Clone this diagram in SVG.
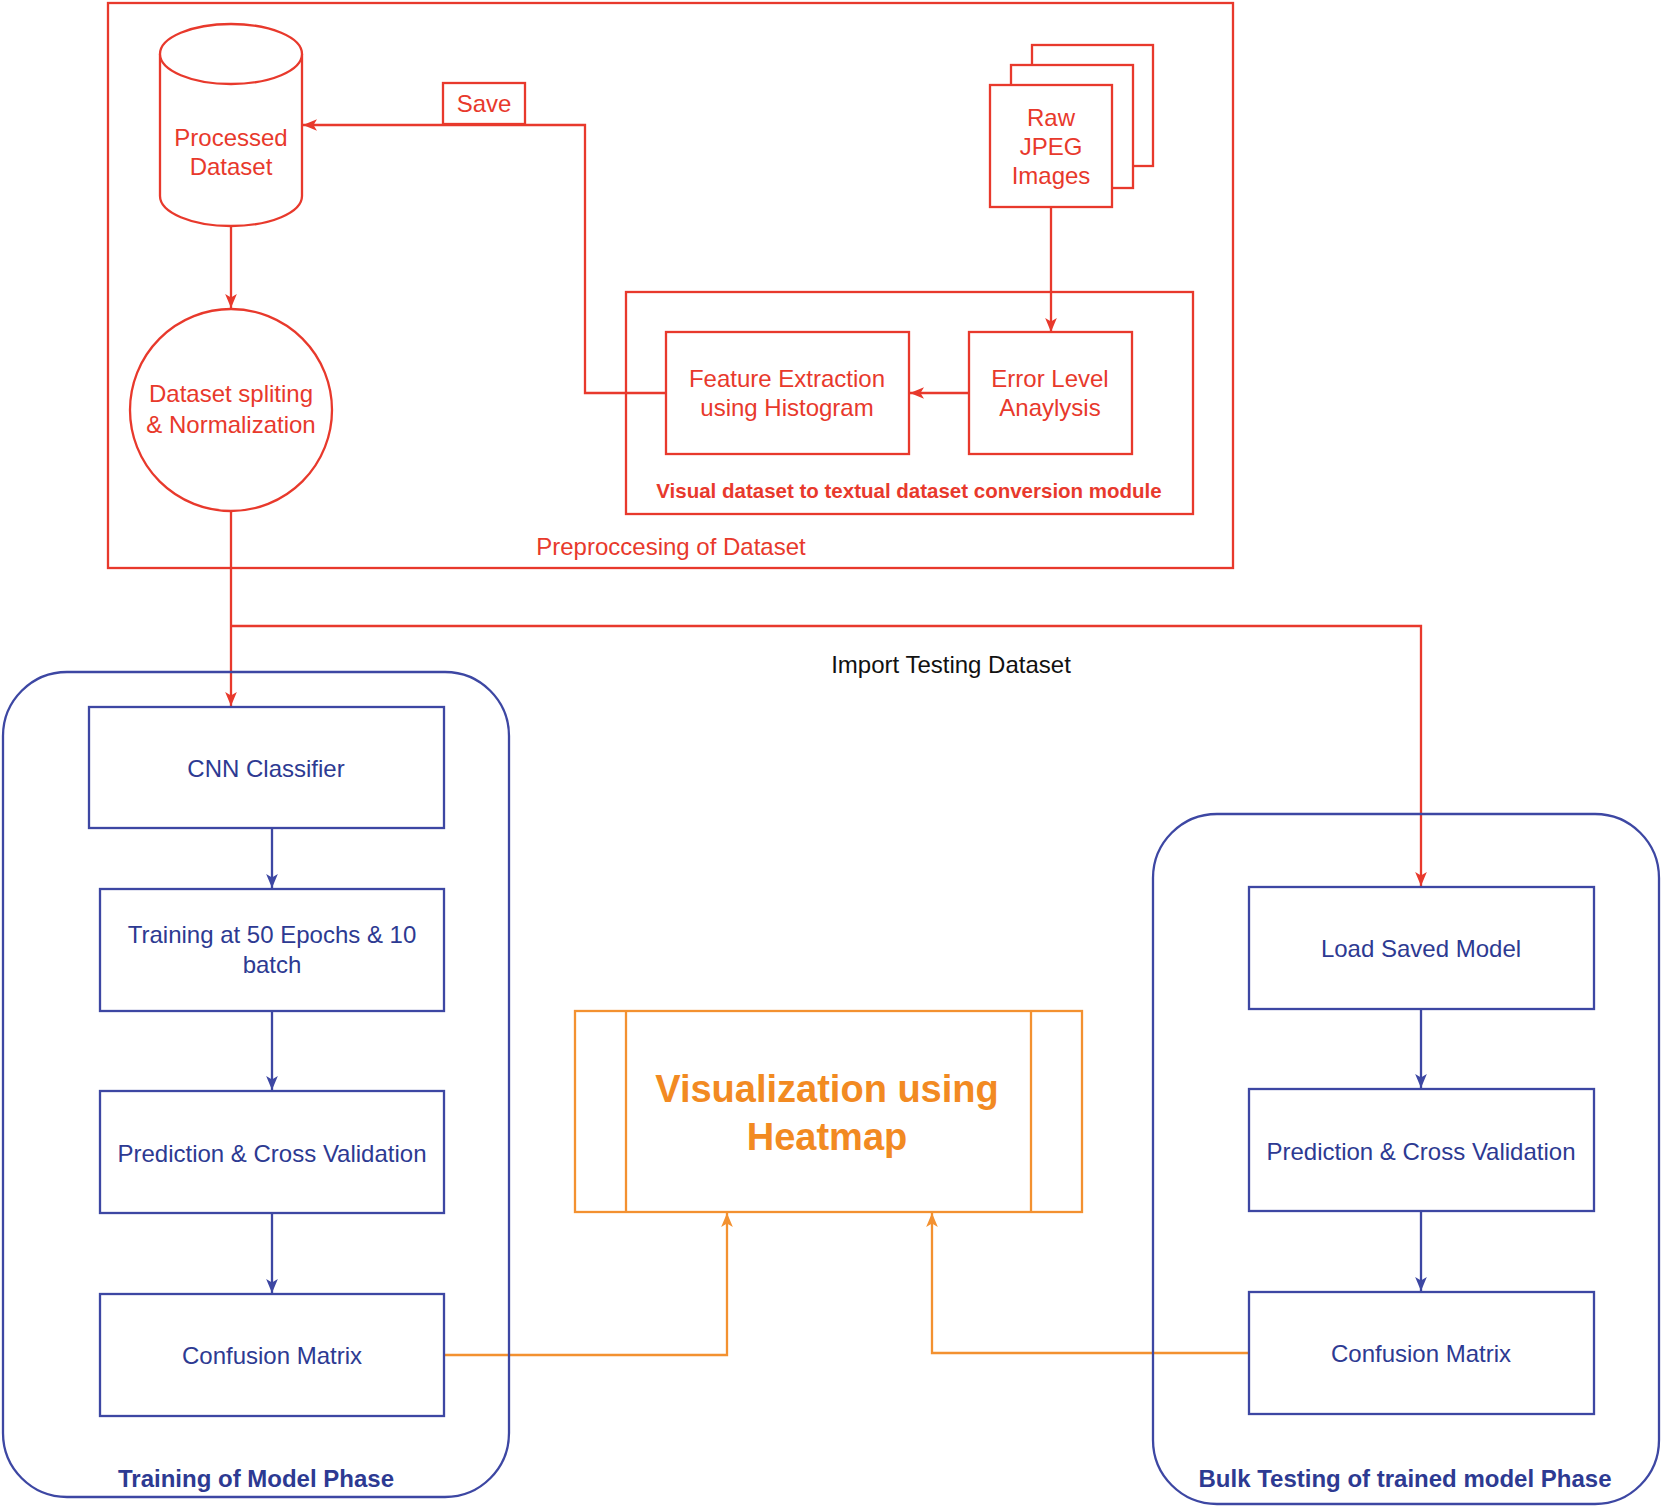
<svg xmlns="http://www.w3.org/2000/svg" width="1661" height="1510" viewBox="0 0 1661 1510">
<defs>
<style>
.r{fill:none;stroke:#e8392c;stroke-width:2.3}
.rf{fill:#fff;stroke:#e8392c;stroke-width:2.3}
.b{fill:#fff;stroke:#3d47a3;stroke-width:2.3}
.bl{fill:none;stroke:#3d47a3;stroke-width:2.3}
.o{fill:none;stroke:#f39130;stroke-width:2.3}
.tr{font-family:"Liberation Sans",Arial,sans-serif;font-size:24px;fill:#e8392c;text-anchor:middle}
.tb{font-family:"Liberation Sans",Arial,sans-serif;font-size:24px;fill:#2d3a92;text-anchor:middle}
.tbb{font-family:"Liberation Sans",Arial,sans-serif;font-size:24px;font-weight:bold;fill:#2d3a92;text-anchor:middle}
.tk{font-family:"Liberation Sans",Arial,sans-serif;font-size:24px;fill:#111;text-anchor:middle}
</style>
<marker id="ar" viewBox="0 0 12 10" refX="12" refY="5" markerWidth="14" markerHeight="13" markerUnits="userSpaceOnUse" orient="auto"><path d="M0,0 L12,5 L0,10 L3,5 Z" fill="#e8392c"/></marker>
<marker id="ab" viewBox="0 0 12 10" refX="12" refY="5" markerWidth="14" markerHeight="13" markerUnits="userSpaceOnUse" orient="auto"><path d="M0,0 L12,5 L0,10 L3,5 Z" fill="#3d47a3"/></marker>
<marker id="ao" viewBox="0 0 12 10" refX="12" refY="5" markerWidth="14" markerHeight="13" markerUnits="userSpaceOnUse" orient="auto"><path d="M0,0 L12,5 L0,10 L3,5 Z" fill="#f39130"/></marker>
</defs>
<rect width="1661" height="1510" fill="#fff"/>

<g id="preprocessing">
<rect class="r" x="108" y="3" width="1125" height="565"/>
<text class="tr" x="671" y="555">Preproccesing of Dataset</text>
</g>
<g id="conversion-module">
<rect class="r" x="626" y="292" width="567" height="222"/>
<text class="tr" x="909" y="498" style="font-size:20.5px;font-weight:bold">Visual dataset to textual dataset conversion module</text>
</g>

<g id="connectors">
<path class="r" d="M666,393 L585,393 L585,125 L303,125" marker-end="url(#ar)"/>
<path class="r" d="M231,226 L231,308" marker-end="url(#ar)"/>
<path class="r" d="M1051,207 L1051,332" marker-end="url(#ar)"/>
<path class="r" d="M969,393 L910,393" marker-end="url(#ar)"/>
<path class="r" d="M231,511 L231,706" marker-end="url(#ar)"/>
<path class="r" d="M231,626 L1421,626 L1421,886" marker-end="url(#ar)"/>
<path class="bl" d="M272,828 L272,888" marker-end="url(#ab)"/>
<path class="bl" d="M272,1011 L272,1090" marker-end="url(#ab)"/>
<path class="bl" d="M272,1213 L272,1293" marker-end="url(#ab)"/>
<path class="bl" d="M1421,1009 L1421,1088" marker-end="url(#ab)"/>
<path class="bl" d="M1421,1211 L1421,1291" marker-end="url(#ab)"/>
<path class="o" d="M444,1355 L727,1355 L727,1213" marker-end="url(#ao)"/>
<path class="o" d="M1249,1353 L932,1353 L932,1213" marker-end="url(#ao)"/>
<text class="tk" x="951" y="673">Import Testing Dataset</text>
</g>

<g id="save">
<rect class="rf" x="443" y="83" width="82" height="41"/>
<text class="tr" x="484" y="112">Save</text>
</g>

<g id="processed-dataset">
<path class="rf" d="M160,54 L160,196 A71,30 0 0 0 302,196 L302,54"/>
<ellipse class="rf" cx="231" cy="54" rx="71" ry="30"/>
<text class="tr" x="231" y="146">Processed</text>
<text class="tr" x="231" y="175">Dataset</text>
</g>

<g id="splitting">
<circle class="rf" cx="231" cy="410" r="101"/>
<text class="tr" x="231" y="402">Dataset spliting</text>
<text class="tr" x="231" y="433">&amp; Normalization</text>
</g>

<g id="raw-jpeg">
<rect class="rf" x="1032" y="45" width="121" height="121"/>
<rect class="rf" x="1011" y="65" width="122" height="123"/>
<rect class="rf" x="990" y="85" width="122" height="122"/>
<text class="tr" x="1051" y="126">Raw</text>
<text class="tr" x="1051" y="155">JPEG</text>
<text class="tr" x="1051" y="184">Images</text>
</g>

<g id="feature-extraction">
<rect class="rf" x="666" y="332" width="243" height="122"/>
<text class="tr" x="787" y="387">Feature Extraction</text>
<text class="tr" x="787" y="416">using Histogram</text>
</g>

<g id="ela">
<rect class="rf" x="969" y="332" width="163" height="122"/>
<text class="tr" x="1050" y="387">Error Level</text>
<text class="tr" x="1050" y="416">Anaylysis</text>
</g>

<g id="training-phase">
<rect class="bl" x="3" y="672" width="506" height="825" rx="64"/>
<text class="tbb" x="256" y="1487">Training of Model Phase</text>
</g>
<g id="cnn">
<rect class="b" x="89" y="707" width="355" height="121"/>
<text class="tb" x="266" y="777">CNN Classifier</text>
</g>
<g id="training">
<rect class="b" x="100" y="889" width="344" height="122"/>
<text class="tb" x="272" y="943">Training at 50 Epochs &amp; 10</text>
<text class="tb" x="272" y="973">batch</text>
</g>
<g id="prediction-train">
<rect class="b" x="100" y="1091" width="344" height="122"/>
<text class="tb" x="272" y="1162">Prediction &amp; Cross Validation</text>
</g>
<g id="confusion-train">
<rect class="b" x="100" y="1294" width="344" height="122"/>
<text class="tb" x="272" y="1364">Confusion Matrix</text>
</g>

<g id="testing-phase">
<rect class="bl" x="1153" y="814" width="506" height="690" rx="64"/>
<text class="tbb" x="1405" y="1487">Bulk Testing of trained model Phase</text>
</g>
<g id="load-model">
<rect class="b" x="1249" y="887" width="345" height="122"/>
<text class="tb" x="1421" y="957">Load Saved Model</text>
</g>
<g id="prediction-test">
<rect class="b" x="1249" y="1089" width="345" height="122"/>
<text class="tb" x="1421" y="1160">Prediction &amp; Cross Validation</text>
</g>
<g id="confusion-test">
<rect class="b" x="1249" y="1292" width="345" height="122"/>
<text class="tb" x="1421" y="1362">Confusion Matrix</text>
</g>

<g id="heatmap">
<rect x="575" y="1011" width="507" height="201" fill="#fff" stroke="#f39130" stroke-width="2.3"/>
<line class="o" x1="626" y1="1011" x2="626" y2="1212"/>
<line class="o" x1="1031" y1="1011" x2="1031" y2="1212"/>
<text x="827" y="1102" style="font-family:'Liberation Sans',Arial,sans-serif;font-size:38px;font-weight:bold;fill:#f28a22;text-anchor:middle">Visualization using</text>
<text x="827" y="1150" style="font-family:'Liberation Sans',Arial,sans-serif;font-size:38px;font-weight:bold;fill:#f28a22;text-anchor:middle">Heatmap</text>
</g>
</svg>
